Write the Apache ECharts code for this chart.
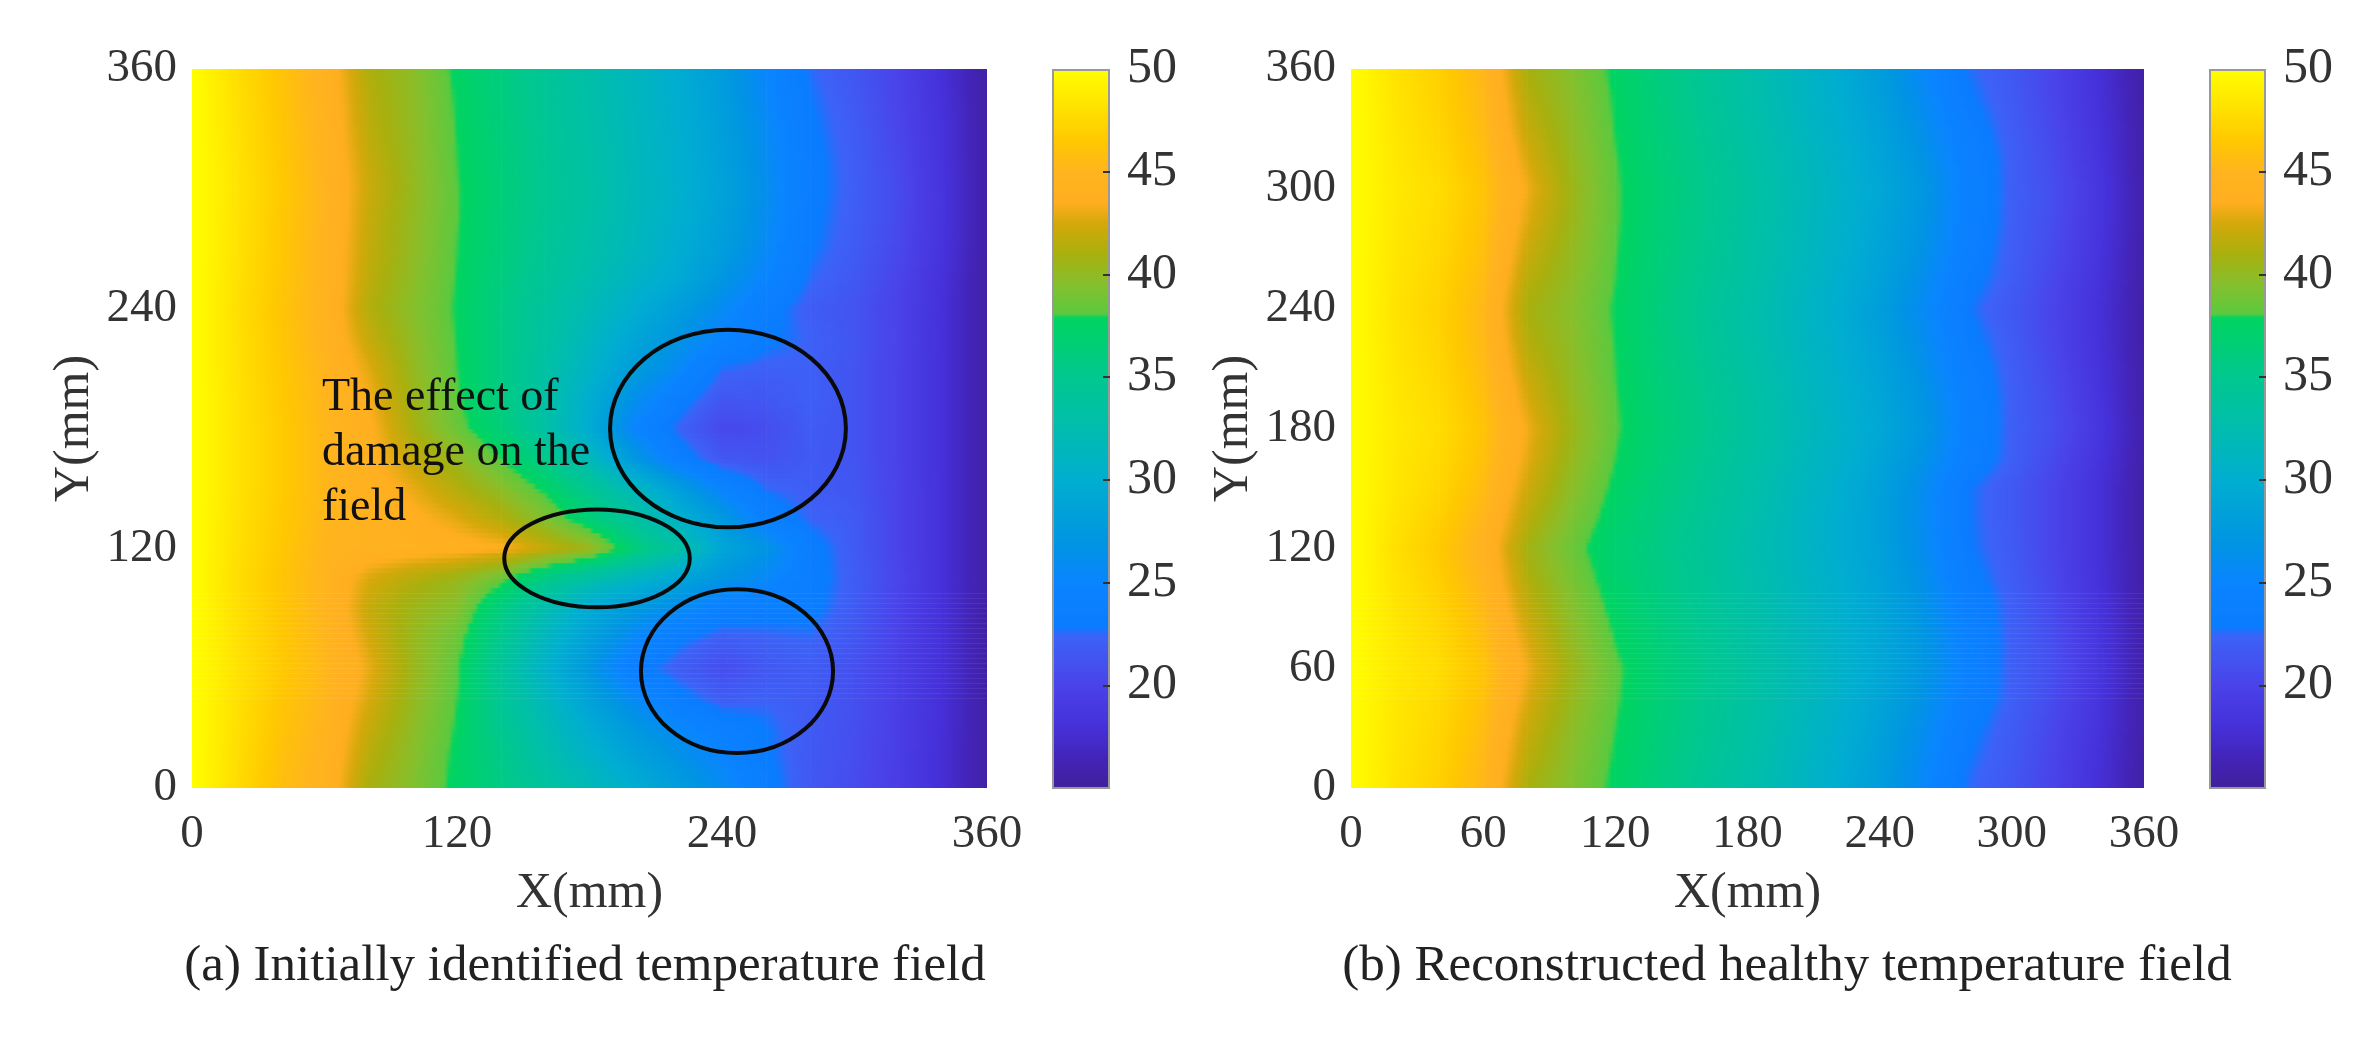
<!DOCTYPE html>
<html>
<head>
<meta charset="utf-8">
<title>Temperature fields</title>
<style>
  html, body { margin: 0; padding: 0; background: #fff; }
  #main { width: 2367px; height: 1038px; }
</style>
<script src="https://cdn.jsdelivr.net/npm/echarts@6/dist/echarts.min.js"></script>
</head>
<body>
<div id="main"></div>
<script>
// x and y of the read-off grid (mm)
var xValues = [0, 20, 40, 60, 80, 100, 120, 140, 160, 180, 200, 220, 240, 260, 280, 300, 320, 340, 360];
var yValues = [0, 15, 30, 45, 60, 75, 90, 105, 120, 135, 150, 165, 180, 195, 210, 225, 240, 255, 270, 285, 300, 315, 330, 345, 360];

// panel (a), one row per yValues entry
var fieldA = [
    [50, 47.8, 45.8, 44.6, 41.0, 39.4, 37.5, 35.7, 33.8, 32.0, 30.0, 28.0, 26.0, 23.5, 21.6, 20.7, 19.4, 17.8, 15.5],
    [50, 47.9, 46.0, 44.7, 41.5, 39.6, 37.6, 35.4, 33.0, 30.8, 28.7, 26.9, 25.0, 23.1, 21.7, 20.8, 19.5, 17.8, 15.5],
    [50, 48.0, 46.2, 44.9, 42.0, 39.9, 37.8, 35.0, 32.3, 29.7, 27.4, 25.5, 23.8, 22.9, 21.8, 20.9, 19.5, 17.9, 15.5],
    [50, 48.1, 46.4, 45.1, 42.6, 40.2, 38.0, 34.6, 31.5, 28.5, 25.6, 23.4, 22.0, 22.3, 21.8, 21.0, 19.6, 17.9, 15.5],
    [50, 48.2, 46.6, 45.3, 43.0, 40.5, 38.2, 34.2, 30.5, 27.2, 23.5, 22.0, 20.8, 21.6, 22.0, 21.0, 19.6, 18.0, 15.5],
    [50, 48.1, 46.5, 45.1, 42.5, 40.3, 38.6, 35.0, 31.3, 28.3, 25.4, 23.2, 22.0, 22.3, 22.5, 21.5, 19.8, 18.0, 15.5],
    [50, 48.0, 46.4, 44.9, 42.0, 40.5, 39.5, 36.0, 32.5, 29.5, 27.5, 26.0, 24.0, 23.5, 23.3, 21.8, 20.0, 18.0, 15.5],
    [50, 47.9, 46.3, 44.9, 42.6, 41.4, 40.4, 38.5, 35.5, 33.0, 31.0, 29.0, 27.0, 25.5, 23.5, 22.0, 20.2, 18.0, 15.6],
    [50, 48.0, 46.5, 45.0, 44.5, 44.2, 44.0, 43.6, 42.0, 40.5, 36.5, 33.5, 29.0, 27.0, 23.5, 21.8, 20.0, 18.0, 15.5],
    [50, 48.1, 46.6, 45.2, 44.4, 43.8, 42.8, 41.4, 39.4, 36.6, 33.8, 30.6, 27.6, 24.0, 22.4, 21.8, 20.0, 18.0, 15.5],
    [50, 48.2, 46.7, 45.2, 44.2, 43.0, 41.4, 39.8, 37.6, 34.8, 31.6, 28.2, 24.8, 22.6, 22.0, 21.5, 20.0, 18.0, 15.5],
    [50, 48.2, 46.7, 45.2, 44.0, 42.0, 40.2, 38.0, 35.4, 31.8, 27.4, 23.8, 21.6, 21.2, 21.8, 21.3, 19.9, 18.0, 15.5],
    [50, 48.2, 46.7, 45.2, 43.8, 41.0, 38.6, 36.4, 33.3, 29.6, 25.0, 22.4, 20.4, 20.8, 21.9, 21.3, 19.9, 18.0, 15.5],
    [50, 48.2, 46.6, 45.1, 43.4, 40.6, 38.2, 36.0, 33.2, 30.0, 26.4, 23.6, 21.5, 21.6, 22.2, 21.3, 19.9, 18.0, 15.5],
    [50, 48.1, 46.5, 45.0, 42.8, 40.2, 38.0, 35.8, 33.4, 30.8, 28.0, 25.6, 22.6, 22.2, 22.2, 21.3, 19.9, 18.0, 15.5],
    [50, 48.1, 46.4, 44.8, 42.0, 39.9, 37.9, 35.8, 33.6, 31.4, 29.0, 27.0, 24.8, 23.2, 22.3, 21.4, 20.0, 18.0, 15.5],
    [50, 48.0, 46.3, 44.7, 41.4, 39.6, 37.8, 35.8, 33.8, 32.0, 30.0, 28.0, 25.8, 23.5, 22.0, 21.3, 19.9, 18.0, 15.5],
    [50, 48.1, 46.4, 44.8, 41.7, 39.8, 37.9, 36.0, 34.2, 32.6, 31.0, 29.4, 27.2, 24.8, 22.6, 21.6, 20.1, 18.1, 15.5],
    [50, 48.2, 46.5, 44.8, 41.9, 40.0, 38.0, 36.2, 34.5, 33.0, 31.5, 29.9, 28.0, 25.6, 23.0, 21.9, 20.4, 18.3, 15.6],
    [50, 48.2, 46.5, 44.9, 42.0, 40.1, 38.1, 36.3, 34.7, 33.2, 31.7, 30.2, 28.4, 26.0, 23.2, 22.0, 20.5, 18.4, 15.6],
    [50, 48.3, 46.6, 44.9, 42.2, 40.2, 38.1, 36.4, 34.8, 33.3, 31.8, 30.3, 28.6, 26.2, 23.3, 22.1, 20.6, 18.4, 15.6],
    [50, 48.2, 46.5, 44.8, 42.0, 40.1, 38.0, 36.3, 34.7, 33.2, 31.7, 30.2, 28.4, 26.0, 23.3, 22.0, 20.4, 18.3, 15.6],
    [50, 48.1, 46.4, 44.7, 41.7, 40.0, 37.9, 36.2, 34.6, 33.1, 31.6, 30.1, 28.2, 25.8, 23.1, 21.9, 20.2, 18.2, 15.6],
    [50, 48.0, 46.3, 44.6, 41.5, 39.9, 37.8, 36.1, 34.5, 33.0, 31.5, 30.0, 28.0, 25.4, 22.9, 21.7, 20.1, 18.1, 15.5],
    [50, 47.9, 46.2, 44.5, 41.2, 39.8, 37.6, 36.0, 34.4, 32.9, 31.4, 29.9, 27.8, 25.1, 22.6, 21.5, 20.0, 17.9, 15.5]
];

// panel (b), same grid
var fieldB = [
    [50, 48.2, 47.0, 45.2, 41.0, 39.4, 37.6, 36.0, 34.5, 33.0, 31.5, 29.9, 27.9, 25.3, 22.6, 21.5, 19.9, 17.9, 15.6],
    [50, 48.3, 47.2, 45.4, 41.6, 39.6, 37.8, 36.2, 34.7, 33.2, 31.7, 30.1, 28.2, 25.7, 22.9, 21.7, 20.0, 18.0, 15.6],
    [50, 48.4, 47.4, 45.7, 42.1, 39.9, 38.0, 36.3, 34.9, 33.4, 31.9, 30.3, 28.5, 26.1, 23.3, 21.9, 20.2, 18.2, 15.7],
    [50, 48.5, 47.6, 46.0, 42.7, 40.3, 38.2, 36.5, 35.0, 33.6, 32.1, 30.6, 28.9, 26.7, 23.9, 22.2, 20.5, 18.4, 15.7],
    [50, 48.6, 47.8, 46.2, 43.2, 40.6, 38.3, 36.6, 35.2, 33.7, 32.2, 30.8, 29.2, 27.2, 24.3, 22.2, 20.8, 18.6, 15.8],
    [50, 48.5, 47.5, 45.8, 42.6, 40.1, 37.9, 36.3, 34.9, 33.4, 32.0, 30.6, 29.1, 27.1, 24.3, 22.2, 20.7, 18.5, 15.8],
    [50, 48.3, 47.2, 45.4, 41.9, 39.6, 37.5, 36.0, 34.6, 33.2, 31.8, 30.4, 28.9, 26.8, 23.9, 22.2, 20.4, 18.3, 15.7],
    [50, 48.2, 46.9, 45.0, 41.3, 39.1, 37.1, 35.8, 34.4, 33.0, 31.6, 30.2, 28.6, 26.4, 23.4, 22.0, 20.2, 18.1, 15.6],
    [50, 48.0, 46.6, 44.6, 40.8, 38.6, 36.8, 35.6, 34.2, 32.8, 31.4, 30.0, 28.4, 26.0, 23.0, 21.8, 20.0, 18.0, 15.6],
    [50, 48.2, 47.0, 45.1, 41.6, 39.2, 37.2, 35.8, 34.4, 33.0, 31.5, 30.1, 28.3, 25.9, 22.9, 21.7, 20.0, 18.0, 15.6],
    [50, 48.4, 47.4, 45.6, 42.3, 39.8, 37.6, 36.1, 34.7, 33.2, 31.7, 30.2, 28.4, 26.0, 22.9, 21.7, 20.0, 18.0, 15.6],
    [50, 48.5, 47.6, 46.0, 42.9, 40.3, 38.0, 36.4, 35.0, 33.5, 32.0, 30.6, 28.9, 26.7, 23.9, 22.2, 20.4, 18.3, 15.7],
    [50, 48.6, 47.8, 46.2, 43.2, 40.6, 38.2, 36.6, 35.2, 33.7, 32.2, 30.8, 29.2, 27.2, 24.3, 22.2, 20.8, 18.6, 15.8],
    [50, 48.5, 47.6, 45.9, 42.6, 40.3, 38.1, 36.5, 35.1, 33.6, 32.1, 30.6, 29.0, 26.9, 24.1, 22.2, 20.6, 18.4, 15.7],
    [50, 48.4, 47.4, 45.6, 42.0, 40.0, 38.0, 36.3, 34.9, 33.4, 31.9, 30.4, 28.7, 26.5, 23.7, 22.1, 20.3, 18.2, 15.7],
    [50, 48.3, 47.2, 45.4, 41.4, 39.8, 37.9, 36.2, 34.7, 33.2, 31.7, 30.2, 28.4, 26.1, 23.3, 21.9, 20.1, 18.1, 15.6],
    [50, 48.2, 47.1, 45.3, 41.0, 39.6, 37.8, 36.1, 34.6, 33.1, 31.6, 30.0, 28.1, 25.7, 22.9, 21.6, 20.0, 18.0, 15.6],
    [50, 48.3, 47.3, 45.6, 41.6, 39.9, 38.0, 36.3, 34.8, 33.3, 31.8, 30.3, 28.5, 26.2, 23.4, 22.0, 20.2, 18.2, 15.7],
    [50, 48.4, 47.5, 45.9, 42.2, 40.2, 38.1, 36.4, 35.0, 33.5, 32.0, 30.5, 28.8, 26.7, 23.8, 22.1, 20.5, 18.4, 15.7],
    [50, 48.5, 47.6, 46.1, 42.8, 40.5, 38.2, 36.5, 35.1, 33.6, 32.1, 30.7, 29.0, 27.0, 24.1, 22.2, 20.7, 18.5, 15.8],
    [50, 48.6, 47.8, 46.2, 43.2, 40.6, 38.2, 36.6, 35.2, 33.7, 32.2, 30.8, 29.2, 27.2, 24.3, 22.2, 20.8, 18.6, 15.8],
    [50, 48.5, 47.5, 45.9, 42.6, 40.3, 38.1, 36.4, 35.0, 33.5, 32.0, 30.6, 28.9, 26.8, 24.0, 22.2, 20.5, 18.4, 15.7],
    [50, 48.4, 47.3, 45.6, 42.0, 40.0, 37.9, 36.3, 34.8, 33.3, 31.8, 30.3, 28.6, 26.3, 23.6, 22.0, 20.3, 18.2, 15.7],
    [50, 48.3, 47.1, 45.4, 41.5, 39.7, 37.8, 36.1, 34.6, 33.1, 31.6, 30.1, 28.2, 25.8, 23.1, 21.8, 20.1, 18.1, 15.6],
    [50, 48.2, 47.0, 45.2, 41.0, 39.5, 37.6, 36.0, 34.5, 33.0, 31.5, 29.9, 27.9, 25.4, 22.7, 21.6, 20.0, 17.9, 15.6]
];

// colormap
var colorbarValues = [15, 16.5, 18, 20, 22.4, 22.9, 25, 27, 30, 33, 35, 37.9, 38.1, 39.5, 41, 42.5, 43.5, 45, 46.5, 48, 50];
var colorbarColors = ['#40209a', '#4324b8', '#4530d8', '#4a42ea', '#3c62f6', '#0a7cff', '#0a84ff', '#0095e2', '#00aed0', '#00bfa8', '#00c890', '#00d460', '#5cc93e', '#84c02e', '#a8b00e', '#d4a80a', '#ffae20', '#ffb41e', '#ffc800', '#ffe000', '#ffff00'];
var colorbarTicks = [20, 25, 30, 35, 40, 45];
var colorbarLabels = [20, 25, 30, 35, 40, 45, 50];

var ellipseCenters = [[242.7, 180, 53.4, 49.5], [183.4, 115, 42, 24.5], [246.8, 58.5, 43.5, 41]];

var fontName = '"Liberation Serif", "Times New Roman", serif';
var textColor = '#333';
var STRIPS = 6;

function colorAt(v) {
    for (var i = 1; i < colorbarValues.length; i++) {
        if (v <= colorbarValues[i]) {
            var t = (v - colorbarValues[i - 1]) / (colorbarValues[i] - colorbarValues[i - 1]);
            return echarts.color.lerp(t, [colorbarColors[i - 1], colorbarColors[i]]);
        }
    }
    return colorbarColors[colorbarColors.length - 1];
}

// one cell per four neighbouring grid nodes
function toCells(field) {
    var cells = [];
    for (var i = 0; i < yValues.length - 1; i++) {
        for (var j = 0; j < xValues.length - 1; j++) {
            cells.push([xValues[j], yValues[i], xValues[j + 1], yValues[i + 1],
                field[i][j], field[i][j + 1], field[i + 1][j], field[i + 1][j + 1]]);
        }
    }
    return cells;
}

// corner-shaded cell, like shading interp in the original plot
function renderCell(params, api) {
    var p0 = api.coord([api.value(0), api.value(3)]);
    var p1 = api.coord([api.value(2), api.value(1)]);
    var h = (p1[1] - p0[1]) / STRIPS;
    var children = [];
    for (var s = 0; s < STRIPS; s++) {
        var f = 1 - (s + 0.5) / STRIPS;
        var left = api.value(4) + (api.value(6) - api.value(4)) * f;
        var right = api.value(5) + (api.value(7) - api.value(5)) * f;
        var stops = [];
        for (var k = 0; k <= 10; k++) {
            stops.push({offset: k / 10, color: colorAt(left + (right - left) * k / 10)});
        }
        children.push({
            type: 'rect',
            shape: {x: p0[0], y: p0[1] + s * h, width: p1[0] - p0[0] + 0.6, height: h + 0.6},
            style: {fill: new echarts.graphic.LinearGradient(0, 0, 1, 0, stops)}
        });
    }
    return {type: 'group', children: children};
}

function renderEllipse(params, api) {
    var c = api.coord([api.value(0), api.value(1)]);
    var s = api.size([api.value(2), api.value(3)]);
    return {
        type: 'ellipse',
        shape: {cx: c[0], cy: c[1], rx: s[0], ry: s[1]},
        style: {fill: null, stroke: '#0a0a0a', lineWidth: 4}
    };
}

function fieldXAxis(gridIndex, interval) {
    return {
        gridIndex: gridIndex, type: 'value', min: 0, max: 360, interval: interval,
        name: 'X(mm)', nameLocation: 'middle', nameGap: 81,
        nameTextStyle: {fontFamily: fontName, fontSize: 50, color: textColor},
        axisLine: {show: false}, axisTick: {show: false}, splitLine: {show: false},
        axisLabel: {fontFamily: fontName, fontSize: 47, color: textColor, margin: 23}
    };
}

function fieldYAxis(gridIndex, interval) {
    return {
        gridIndex: gridIndex, type: 'value', min: 0, max: 360, interval: interval,
        name: 'Y(mm)', nameLocation: 'middle', nameGap: 92, nameRotate: 90,
        nameTextStyle: {fontFamily: fontName, fontSize: 50, color: textColor},
        axisLine: {show: false}, axisTick: {show: false}, splitLine: {show: false},
        axisLabel: {fontFamily: fontName, fontSize: 47, color: textColor, margin: 15}
    };
}

function barXAxis(gridIndex) {
    return {gridIndex: gridIndex, type: 'category', data: ['T'], show: false};
}

function barYAxis(gridIndex) {
    return {
        gridIndex: gridIndex, type: 'value', position: 'right', min: 15, max: 50, interval: 5, z: 5,
        axisLine: {show: false}, splitLine: {show: false},
        axisTick: {show: true, inside: true, length: 7, customValues: colorbarTicks, lineStyle: {color: '#333', width: 2}},
        axisLabel: {fontFamily: fontName, fontSize: 50, color: textColor, margin: 17, customValues: colorbarLabels}
    };
}

var barStops = colorbarValues.map(function (v, i) {
    return {offset: (50 - v) / 35, color: colorbarColors[i]};
}).reverse();

function barSeries(axisIndex) {
    return {
        type: 'bar', xAxisIndex: axisIndex, yAxisIndex: axisIndex, data: [50], barWidth: '100%', silent: true,
        itemStyle: {
            color: new echarts.graphic.LinearGradient(0, 0, 0, 1, barStops),
            borderColor: '#999', borderWidth: 2
        }
    };
}

function cellSeries(axisIndex, field) {
    return {
        type: 'custom', xAxisIndex: axisIndex, yAxisIndex: axisIndex, clip: true, silent: true,
        encode: {x: [0, 2], y: [1, 3]},
        renderItem: renderCell,
        data: toCells(field)
    };
}

var mcharts = echarts.init(document.getElementById('main'));

var option = {
    animation: false,
    backgroundColor: '#fff',
    title: [
        {
            text: '(a) Initially identified temperature field', left: 580, top: 936, textAlign: 'center',
            textStyle: {fontFamily: fontName, fontSize: 51, fontWeight: 'normal', color: '#222'}
        },
        {
            text: '(b) Reconstructed healthy temperature field', left: 1782, top: 936, textAlign: 'center',
            textStyle: {fontFamily: fontName, fontSize: 51, fontWeight: 'normal', color: '#222'}
        },
        {
            text: 'The effect of\ndamage on the\nfield', left: 317, top: 365,
            textStyle: {fontFamily: fontName, fontSize: 46, fontWeight: 'normal', color: '#111', lineHeight: 55}
        }
    ],
    grid: [
        {left: 192, top: 69, width: 795, height: 719},
        {left: 1052, top: 69, width: 58, height: 719},
        {left: 1351, top: 69, width: 793, height: 719},
        {left: 2209, top: 69, width: 57, height: 719}
    ],
    xAxis: [fieldXAxis(0, 120), barXAxis(1), fieldXAxis(2, 60), barXAxis(3)],
    yAxis: [fieldYAxis(0, 120), barYAxis(1), fieldYAxis(2, 60), barYAxis(3)],
    series: [
        cellSeries(0, fieldA),
        barSeries(1),
        cellSeries(2, fieldB),
        barSeries(3),
        {
            type: 'custom', xAxisIndex: 0, yAxisIndex: 0, z: 6, silent: true,
            encode: {x: 0, y: 1},
            renderItem: renderEllipse,
            data: ellipseCenters
        }
    ]
};

mcharts.setOption(option, true);
</script>
</body>
</html>
